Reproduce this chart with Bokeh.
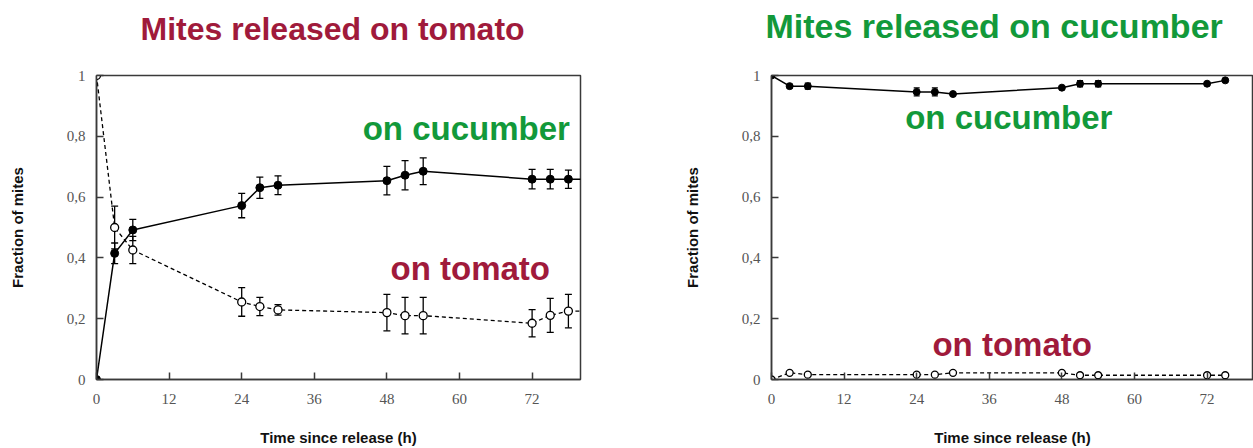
from bokeh.plotting import figure
from bokeh.models import ColumnDataSource, Whisker, TeeHead, FixedTicker, Label, Range1d, CustomJSTickFormatter, Title
from bokeh.layouts import row
from bokeh.embed import file_html
from bokeh.resources import INLINE

# ---------------- data ----------------
titles = ["Mites released on tomato", "Mites released on cucumber"]
x_ticks = [0, 12, 24, 36, 48, 60, 72]
y_ticks = [0, 0.2, 0.4, 0.6, 0.8, 1.0]

# left panel: mites released on tomato
left_time = [0, 3, 6, 24, 27, 30, 48, 51, 54, 72, 75, 78]
left_cuc = [0.0, 0.415, 0.492, 0.572, 0.631, 0.639, 0.654, 0.672, 0.685, 0.659, 0.659, 0.659]
left_cuc_err = [0.0, 0.034, 0.035, 0.04, 0.035, 0.031, 0.047, 0.048, 0.044, 0.032, 0.032, 0.03]
left_tom = [1.0, 0.50, 0.426, 0.255, 0.240, 0.229, 0.220, 0.210, 0.210, 0.185, 0.211, 0.225]
left_tom_err = [0.0, 0.07, 0.045, 0.047, 0.03, 0.017, 0.06, 0.06, 0.06, 0.045, 0.056, 0.055]
# series continue past the right edge of the axis (beyond 80 h)
left_tail_time = [78, 82]
left_tail_cuc = [0.659, 0.659]
left_tail_tom = [0.225, 0.225]

# right panel: mites released on cucumber
right_time = [0, 3, 6, 24, 27, 30, 48, 51, 54, 72, 75]
right_cuc = [1.0, 0.965, 0.965, 0.946, 0.946, 0.939, 0.960, 0.973, 0.973, 0.973, 0.984]
right_cuc_err = [0.0, 0.006, 0.01, 0.013, 0.013, 0.0, 0.0, 0.01, 0.01, 0.0, 0.0]
right_tom = [0.0, 0.022, 0.016, 0.016, 0.016, 0.022, 0.022, 0.014, 0.014, 0.014, 0.014]

TOMATO = "#a01a3b"
CUCUMBER = "#12993a"
AXIS = "#3a3a3a"
FONT = "Liberation Sans"


def make_panel(width, border_left, border_right, border_top, border_bottom, x_end,
               title, title_color, title_size, title_offset, title_gap):
    p = figure(width=width, height=448, output_backend="svg", toolbar_location=None,
               x_range=Range1d(0, x_end), y_range=Range1d(0, 1),
               min_border_left=border_left, min_border_right=border_right,
               min_border_top=border_top, min_border_bottom=border_bottom,
               background_fill_color="white", border_fill_color="white")
    # spacer between frame and title, then the title itself
    p.add_layout(Title(text=" ", text_font_size="1px", standoff=title_gap), "above")
    p.add_layout(Title(text=title, align="left", offset=title_offset, text_color=title_color,
                       text_font=FONT, text_font_size=title_size, text_font_style="bold",
                       standoff=0), "above")
    p.grid.visible = False
    p.outline_line_color = AXIS
    p.outline_line_width = 1.5
    p.outline_line_alpha = 1.0
    for ax in (p.xaxis[0], p.yaxis[0]):
        ax.axis_line_color = AXIS
        ax.axis_line_width = 1.5
        ax.major_tick_line_color = AXIS
        ax.major_tick_line_width = 1.5
        ax.major_tick_in = 7
        ax.major_tick_out = 0
        ax.minor_tick_line_color = None
        ax.major_label_text_font = "Liberation Serif"
        ax.major_label_text_font_size = "15px"
        ax.major_label_text_color = "#555555"
        ax.axis_label_text_font = FONT
        ax.axis_label_text_font_style = "bold"
        ax.axis_label_text_font_size = "15px"
        ax.axis_label_text_color = "#111111"
    p.xaxis.ticker = FixedTicker(ticks=x_ticks)
    p.yaxis.ticker = FixedTicker(ticks=y_ticks)
    p.yaxis.formatter = CustomJSTickFormatter(code="""
        if (Math.abs(tick) < 1e-9) return "0";
        if (Math.abs(tick - 1) < 1e-9) return "1";
        return tick.toFixed(1).replace('.', ',');
    """)
    p.xaxis.axis_label = "Time since release (h)"
    p.yaxis.axis_label = "Fraction of mites"
    p.xaxis.major_label_standoff = 14
    p.yaxis.major_label_standoff = 11
    p.xaxis.axis_label_standoff = 22
    p.yaxis.axis_label_standoff = 38
    return p


def add_errors(p, t, v, e, head):
    src = ColumnDataSource(dict(t=[a for a, b in zip(t, e) if b > 0],
                                lo=[a - b for a, b in zip(v, e) if b > 0],
                                hi=[a + b for a, b in zip(v, e) if b > 0]))
    w = Whisker(source=src, base="t", lower="lo", upper="hi", line_color="black", line_width=1.3,
                upper_head=TeeHead(size=head, line_color="black", line_width=1.3),
                lower_head=TeeHead(size=head, line_color="black", line_width=1.3),
                level="underlay")
    p.add_layout(w)


def add_label(p, x, y, text, color, size="33px"):
    p.add_layout(Label(x=x, y=y, text=text, text_color=color, text_baseline="middle",
                       text_font=FONT, text_font_size=size, text_font_style="bold"))


# ---------------- left panel ----------------
p1 = make_panel(640, 96, 60, 73, 69, 80, titles[0], TOMATO, "32px", 44, 26)
add_errors(p1, left_time, left_cuc, left_cuc_err, 7)
add_errors(p1, left_time, left_tom, left_tom_err, 7)
p1.line(left_time, left_cuc, line_color="black", line_width=1.5)
p1.line(left_tail_time, left_tail_cuc, line_color="black", line_width=1.5)
p1.line(left_time, left_tom, line_color="black", line_width=1.3, line_dash="4 3")
p1.line(left_tail_time, left_tail_tom, line_color="black", line_width=1.3, line_dash="4 3")
p1.scatter(left_time, left_cuc, size=8, marker="circle", fill_color="black", line_color="black")
p1.scatter(left_time, left_tom, size=8, marker="circle", fill_color="white", line_color="black",
           line_width=1.3)
add_label(p1, 44, 0.826, "on cucumber", CUCUMBER)
add_label(p1, 48.6, 0.366, "on tomato", TOMATO)

# ---------------- right panel ----------------
p2 = make_panel(613, 131, 0, 75, 66, 79.67, titles[1], CUCUMBER, "34px", -6, 28)
add_errors(p2, right_time, right_cuc, right_cuc_err, 6)
p2.line(right_time, right_cuc, line_color="black", line_width=1.5)
p2.line(right_time, right_tom, line_color="black", line_width=1.3, line_dash="4 3")
p2.scatter(right_time, right_cuc, size=7, marker="circle", fill_color="black", line_color="black")
p2.scatter(right_time, right_tom, size=7, marker="circle", fill_color="white", line_color="black",
           line_width=1.3)
add_label(p2, 22.1, 0.863, "on cucumber", CUCUMBER)
add_label(p2, 26.6, 0.114, "on tomato", TOMATO)

layout = row(p1, p2)
open("out.html", "w").write(file_html(layout, INLINE))
